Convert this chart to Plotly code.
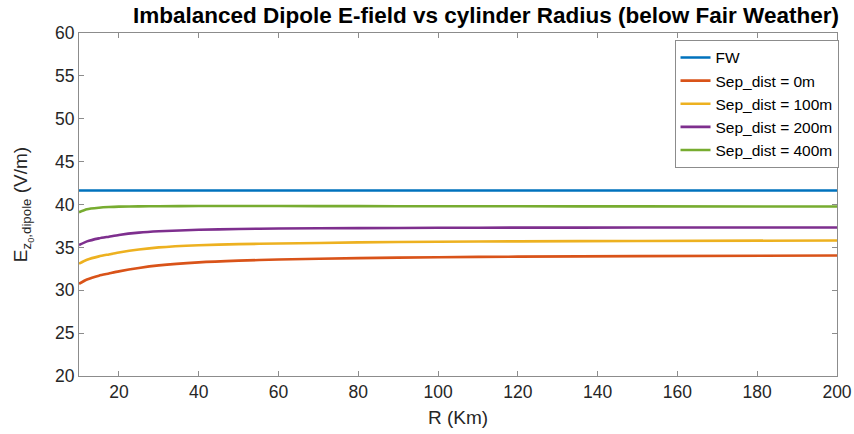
import plotly.graph_objects as go

# Cylinder radius samples (km)
radius_km = [10, 12, 15, 17.5, 20, 25, 30, 40, 50, 60, 80, 100, 120, 150, 200]

# Fair-weather reference field (V/m)
fw_field = [41.63] * len(radius_km)

# Dipole field for each separation distance (V/m)
sep_0m = [30.75, 31.25, 31.70, 31.95, 32.20, 32.60, 32.90, 33.25, 33.45, 33.58, 33.75, 33.85, 33.92, 33.98, 34.05]
sep_100m = [33.10, 33.55, 33.95, 34.18, 34.40, 34.75, 35.00, 35.25, 35.38, 35.45, 35.58, 35.65, 35.70, 35.75, 35.80]
sep_200m = [35.27, 35.70, 36.05, 36.25, 36.45, 36.72, 36.88, 37.05, 37.15, 37.20, 37.25, 37.28, 37.30, 37.31, 37.32]
sep_400m = [39.10, 39.45, 39.62, 39.70, 39.75, 39.78, 39.80, 39.82, 39.82, 39.82, 39.81, 39.80, 39.79, 39.78, 39.77]

series_names = ["FW", "Sep_dist = 0m", "Sep_dist = 100m", "Sep_dist = 200m", "Sep_dist = 400m"]
series_values = [fw_field, sep_0m, sep_100m, sep_200m, sep_400m]
series_colors = ["#0072BD", "#D95319", "#EDB120", "#7E2F8E", "#77AC30"]

x_ticks = [20, 40, 60, 80, 100, 120, 140, 160, 180, 200]
y_ticks = [20, 25, 30, 35, 40, 45, 50, 55, 60]

fig = go.Figure()
for name, vals, col in zip(series_names, series_values, series_colors):
    fig.add_trace(go.Scatter(
        x=radius_km, y=vals, name=name, mode="lines",
        line=dict(color=col, width=2.6, shape="spline", smoothing=0.6),
    ))

font_family = "Liberation Sans, Arial, sans-serif"
axis_common = dict(
    showline=True, linecolor="#8c8c8c", linewidth=1, mirror="ticks",
    ticks="inside", ticklen=5, tickcolor="#8c8c8c",
    showgrid=False, zeroline=False, automargin=False,
    tickfont=dict(family=font_family, size=17.5, color="#262626"),
)

fig.update_layout(
    width=854, height=434,
    margin=dict(l=79, r=17, t=33, b=58),
    paper_bgcolor="white", plot_bgcolor="white",
    title=dict(
        text="<b>Imbalanced Dipole E-field vs cylinder Radius (below Fair Weather)</b>",
        x=0.569, xanchor="center", y=0.966, yanchor="middle",
        font=dict(family=font_family, size=22.5, color="black"),
    ),
    xaxis=dict(
        range=[10, 200], tickvals=x_ticks,
        title=dict(text="R (Km)", standoff=9,
                   font=dict(family=font_family, size=19, color="#262626")),
        **axis_common,
    ),
    yaxis=dict(
        range=[20, 60], tickvals=y_ticks,
        title=dict(text="E<sub>z<sub>0</sub>,dipole</sub> (V/m)", standoff=22,
                   font=dict(family=font_family, size=19, color="#262626")),
        **axis_common,
    ),
    legend=dict(
        x=1.002, xanchor="right", y=0.98, yanchor="top",
        bgcolor="white", bordercolor="#8c8c8c", borderwidth=1,
        font=dict(family=font_family, size=15.5, color="black"),
        itemwidth=30, tracegroupgap=0,
    ),
    showlegend=True,
)

fig.write_html("out.html")
